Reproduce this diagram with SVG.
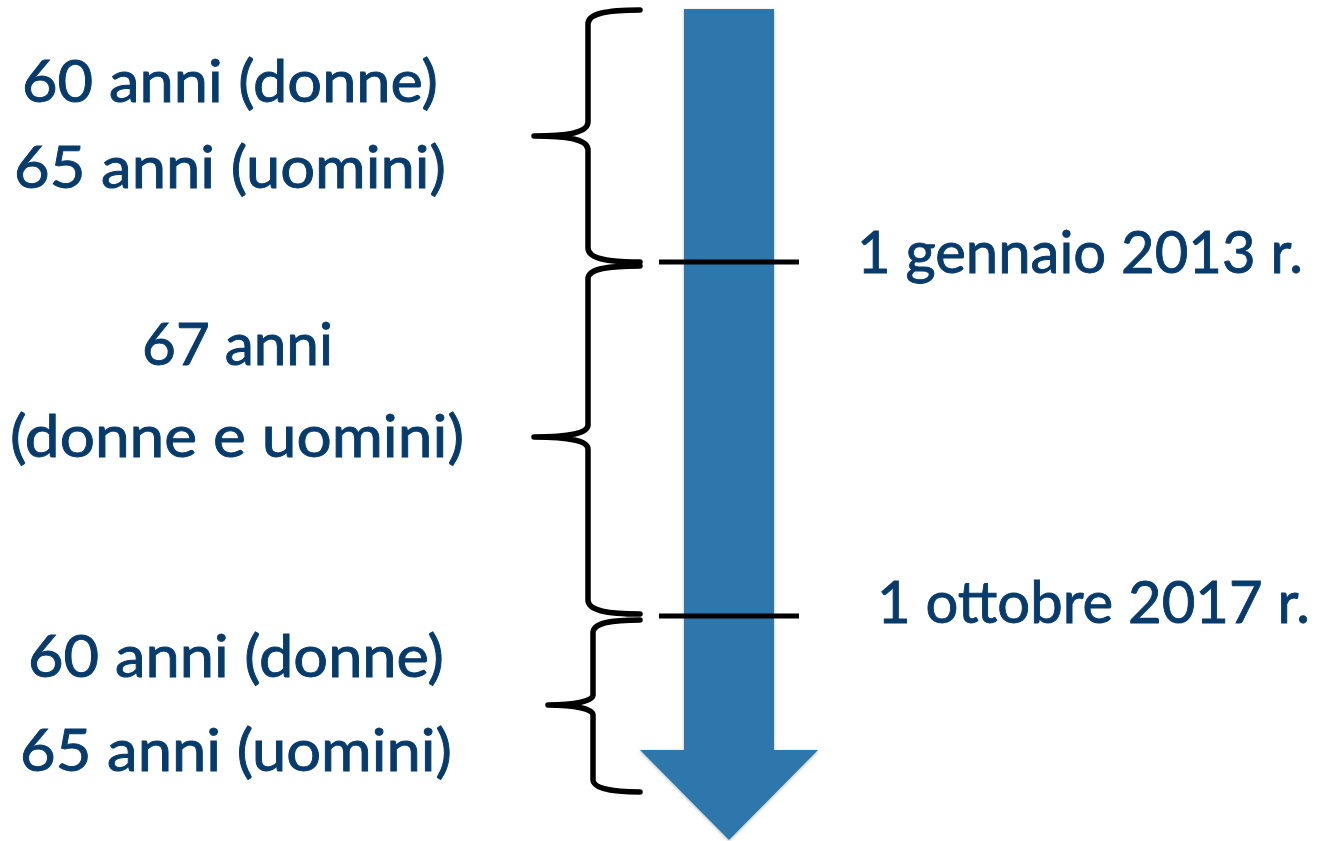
<svg xmlns="http://www.w3.org/2000/svg" width="1319" height="841" viewBox="0 0 1319 841">
  <style>
    .lbl { font-family: Lato, "Open Sans", "Liberation Sans", sans-serif; font-size: 58px; fill: #073b6c; stroke: #073b6c; stroke-width: 0.9; }
    .brace { fill: none; stroke: #000; stroke-width: 5.5; stroke-linecap: round; stroke-linejoin: round; }
    .tick { stroke: #000; stroke-width: 5; }
  </style>
  <defs>
    <filter id="sh" x="-10%" y="-5%" width="120%" height="110%">
      <feDropShadow dx="0" dy="1" stdDeviation="1.5" flood-color="#000" flood-opacity="0.3"/>
    </filter>
  </defs>
  <rect width="1319" height="841" fill="#fff"/>

  <g id="timeline-arrow">
    <path d="M684,9 H774 V750 H818 L729,840 L640,750 H684 Z" fill="#2d77ac" filter="url(#sh)"/>
  </g>

  <g id="connectors">
    <path class="brace" d="M640,10 C605,10 588,14 588,24 L588,122 C588,132 570,136 534,136 C570,136 588,140 588,150 L588,248 C588,258 605,262 640,262"/>
    <path class="brace" d="M640,266 C605,266 588,269 588,279 L588,425 C588,433 570,437 534,437 C570,437 588,441 588,449 L588,600 C588,610 605,614 640,614"/>
    <path class="brace" d="M640,620 C610,620 593,623 593,633 L593,695 C593,701 575,705 548,705 C575,705 593,709 593,715 L593,780 C593,788 610,792 640,792"/>
    <line class="tick" x1="659" y1="262" x2="799" y2="262"/>
    <line class="tick" x1="659" y1="616" x2="799" y2="616"/>
  </g>

  <g id="period-1">
    <text class="lbl" x="22" y="102" textLength="416" lengthAdjust="spacingAndGlyphs">60 anni (donne)</text>
    <text class="lbl" x="14" y="188" textLength="432" lengthAdjust="spacingAndGlyphs">65 anni (uomini)</text>
  </g>
  <g id="period-2">
    <text class="lbl" x="142" y="365" textLength="191" lengthAdjust="spacingAndGlyphs">67 anni</text>
    <text class="lbl" x="10" y="457" textLength="454" lengthAdjust="spacingAndGlyphs">(donne e uomini)</text>
  </g>
  <g id="period-3">
    <text class="lbl" x="28" y="677" textLength="416" lengthAdjust="spacingAndGlyphs">60 anni (donne)</text>
    <text class="lbl" x="20" y="771" textLength="432" lengthAdjust="spacingAndGlyphs">65 anni (uomini)</text>
  </g>
  <g id="date-1">
    <text class="lbl" x="857" y="273" textLength="446" lengthAdjust="spacingAndGlyphs">1 gennaio 2013 r.</text>
  </g>
  <g id="date-2">
    <text class="lbl" x="877" y="623" textLength="433" lengthAdjust="spacingAndGlyphs">1 ottobre 2017 r.</text>
  </g>
</svg>
